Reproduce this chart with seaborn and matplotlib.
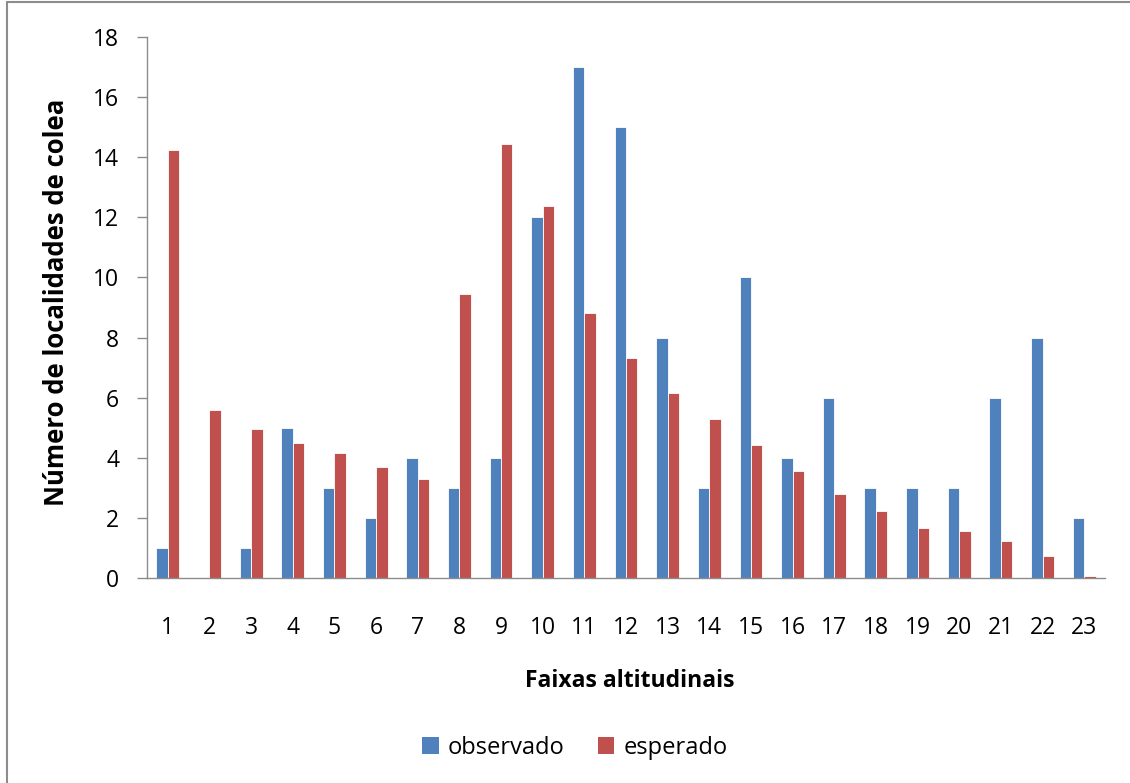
import matplotlib
matplotlib.use("Agg")
import matplotlib.pyplot as plt
from matplotlib.ticker import FixedLocator
from matplotlib.patches import Patch
from matplotlib.lines import Line2D
import seaborn as sns
import pandas as pd

faixas = [str(i) for i in range(1, 24)]
observado = [1, 0, 1, 5, 3, 2, 4, 3, 4, 12, 17, 15, 8, 3, 10, 4, 6, 3, 3, 3, 6, 8, 2]
esperado = [14.23, 5.60, 4.97, 4.49, 4.16, 3.70, 3.30, 9.45, 14.43, 12.37, 8.83,
            7.33, 6.17, 5.29, 4.41, 3.56, 2.81, 2.22, 1.65, 1.57, 1.23, 0.72, 0.05]
series = ["observado", "esperado"]
cores = {"observado": "#4F81BD", "esperado": "#C0504D"}

df = pd.DataFrame({
    "faixa": faixas * 2,
    "valor": observado + esperado,
    "serie": [series[0]] * len(faixas) + [series[1]] * len(faixas),
})

sns.set_style("white")
plt.rcParams["font.family"] = ["Open Sans", "DejaVu Sans"]
plt.rcParams["text.color"] = "black"

fig = plt.figure(figsize=(11.3, 7.83), dpi=100)
ax = fig.add_axes([147 / 1130, 1 - 578 / 783, 958 / 1130, 541 / 783])

sns.barplot(data=df, x="faixa", y="valor", hue="serie", order=faixas,
            hue_order=series, palette=cores, width=0.55, saturation=1,
            edgecolor="white", linewidth=0.6, ax=ax, legend=False)

ax.set_xlim(-0.5, len(faixas) - 0.5)
ax.set_ylim(0, 18)
ax.set_yticks(range(0, 19, 2))
ax.set_xlabel("")
ax.set_ylabel("")

for s in ["top", "right"]:
    ax.spines[s].set_visible(False)
for s in ["left", "bottom"]:
    ax.spines[s].set_color("#8c8c8c")
    ax.spines[s].set_linewidth(1.0)

# category boundaries carry the x tick marks; labels sit at the centres
ax.xaxis.set_minor_locator(FixedLocator([i - 0.5 for i in range(len(faixas) + 1)]))
ax.tick_params(axis="x", which="major", length=0, pad=27, labelsize=16.5, labelcolor="black")
ax.tick_params(axis="x", which="minor", length=7, width=1.0, color="#8c8c8c", direction="out")
ax.tick_params(axis="y", which="major", length=7, width=1.0, color="#8c8c8c",
               direction="out", pad=13, labelsize=16.5, labelcolor="black", left=True)
ax.grid(False)

fig.text(57 / 1130, 1 - 302 / 783, "Número de localidades de colea", rotation=90,
         ha="center", va="center", fontsize=18.5, fontweight="bold")
fig.text(630 / 1130, 1 - 681 / 783, "Faixas altitudinais", ha="center", va="center",
         fontsize=16.5, fontweight="bold")

handles = [Patch(facecolor=cores[s], edgecolor="none") for s in series]
fig.legend(handles, series, loc="center", bbox_to_anchor=(575 / 1130, 1 - 748 / 783),
           ncol=2, frameon=False, fontsize=17, handlelength=0.7, handleheight=0.7,
           handletextpad=0.4, columnspacing=1.4)

# outer chart frame
fig.add_artist(Line2D([7 / 1130, 7 / 1130], [0, 1 - 2 / 783], transform=fig.transFigure,
                      color="#8c8c8c", linewidth=1.5))
fig.add_artist(Line2D([7 / 1130, 1], [1 - 2 / 783, 1 - 2 / 783], transform=fig.transFigure,
                      color="#8c8c8c", linewidth=1.5))

fig.savefig("out.png", dpi=100)
